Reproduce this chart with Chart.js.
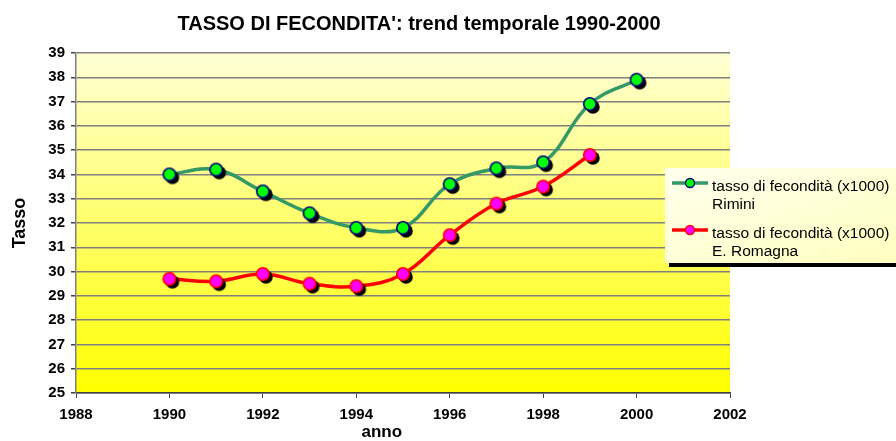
<!DOCTYPE html>
<html>
<head>
<meta charset="utf-8">
<script src="https://cdn.jsdelivr.net/npm/chart.js@4.4.1/dist/chart.umd.min.js"></script>
<style>
  html, body { margin: 0; padding: 0; background: #fff; }
  #wrap { position: relative; width: 896px; height: 441px; }
  #legend {
    position: absolute; left: 665px; top: 168px; width: 231px; height: 95px;
    background: linear-gradient(160deg, #ffffee 0%, #ffffc0 100%);
    box-shadow: 4px 4px 0 #000;
    font-family: Arial, "Liberation Sans", sans-serif; font-size: 15.5px; color: #000;
    box-sizing: border-box; padding-top: 8px;
  }
  .item { position: relative; height: 47px; }
  .item svg { position: absolute; left: 6px; top: 0px; }
  .item .txt { position: absolute; left: 47px; top: 1px; line-height: 17.5px; white-space: nowrap; }
</style>
</head>
<body>
<div id="wrap">
  <canvas id="chart" width="896" height="441"></canvas>
  <div id="legend"></div>
</div>
<script>
const years = [1990, 1991, 1992, 1993, 1994, 1995, 1996, 1997, 1998, 1999, 2000];
const rimini = [34.0, 34.2, 33.3, 32.4, 31.8, 31.8, 33.6, 34.25, 34.5, 36.9, 37.9];
const romagna = [29.7, 29.6, 29.9, 29.5, 29.4, 29.9, 31.5, 32.8, 33.5, 34.8];
const seriesNames = [
  ['tasso di fecondità (x1000)', 'Rimini'],
  ['tasso di fecondità (x1000)', 'E. Romagna']
];
const yTicks = [25, 26, 27, 28, 29, 30, 31, 32, 33, 34, 35, 36, 37, 38, 39];
const xTicks = [1988, 1990, 1992, 1994, 1996, 1998, 2000, 2002];

function marker(fill, stroke) {
  const c = document.createElement('canvas');
  c.width = 26; c.height = 26;
  const g = c.getContext('2d');
  g.fillStyle = '#000';
  g.beginPath(); g.arc(16, 16, 6.8, 0, Math.PI * 2); g.fill();
  g.fillStyle = fill; g.strokeStyle = stroke; g.lineWidth = 1.6;
  g.beginPath(); g.arc(13, 13, 6.2, 0, Math.PI * 2); g.fill(); g.stroke();
  return c;
}

const bgPlugin = {
  id: 'bg',
  afterLayout(chart) {
    // title in the original is centred a bit right of the plot
    if (chart.titleBlock) {
      chart.titleBlock.left = 108;
      chart.titleBlock.right = 730;
    }
  },
  beforeDraw(chart) {
    const { ctx, chartArea: a } = chart;
    const grad = ctx.createLinearGradient(0, a.top, 0, a.bottom);
    grad.addColorStop(0, '#ffffd6');
    grad.addColorStop(1, '#ffff00');
    ctx.save();
    ctx.fillStyle = grad;
    ctx.fillRect(a.left, a.top, a.right - a.left, a.bottom - a.top);
    ctx.restore();
  }
};

const fam = 'Arial, "Liberation Sans", sans-serif';
const font = { family: fam, weight: 'bold', size: 15 };

new Chart(document.getElementById('chart'), {
  type: 'line',
  data: {
    datasets: [
      {
        label: seriesNames[0].join(' '),
        data: years.map((y, i) => ({ x: y, y: rimini[i] })),
        borderColor: '#339966',
        borderWidth: 3.5,
        tension: 0.4,
        pointStyle: marker('#00ff00', '#000080')
      },
      {
        label: seriesNames[1].join(' '),
        data: romagna.map((v, i) => ({ x: years[i], y: v })),
        borderColor: '#ff0000',
        borderWidth: 3.5,
        tension: 0.4,
        pointStyle: marker('#ff00ff', '#ff0000')
      }
    ]
  },
  options: {
    responsive: false,
    animation: false,
    layout: { padding: { left: 0, right: 166, top: 0, bottom: 0 } },
    plugins: {
      legend: { display: false },
      tooltip: { enabled: false },
      title: {
        display: true,
        text: "TASSO DI FECONDITA': trend temporale 1990-2000",
        color: '#000',
        font: { family: fam, weight: 'bold', size: 20 },
        padding: { top: 12, bottom: 17 }
      }
    },
    scales: {
      x: {
        type: 'linear',
        min: 1988, max: 2002,
        afterBuildTicks: s => { s.ticks = xTicks.map(v => ({ value: v })); },
        afterFit: s => { s.height = 48; },
        ticks: { color: '#000', font, padding: 8, callback: v => String(v) },
        grid: { display: true, drawOnChartArea: false, drawTicks: true, tickLength: 5, color: '#404040', lineWidth: 1 },
        border: { color: '#404040', width: 1.5 },
        title: { display: true, text: 'anno         ', color: '#000', font: { family: fam, weight: 'bold', size: 17 }, padding: { top: 0, bottom: -2 } }
      },
      y: {
        min: 25, max: 39,
        afterBuildTicks: s => { s.ticks = yTicks.map(v => ({ value: v })); },
        afterFit: s => { s.width = 76; },
        ticks: { color: '#000', font, padding: 6 },
        grid: { color: '#808080', lineWidth: 1.5, tickLength: 5, tickColor: '#404040' },
        border: { color: '#808080', width: 1.5 },
        title: { display: true, text: 'Tasso', color: '#000', font: { family: fam, weight: 'bold', size: 18 }, padding: { top: 9, bottom: 0 } }
      }
    }
  },
  plugins: [bgPlugin]
});

// legend
const legend = document.getElementById('legend');
const legendStyles = [
  { line: '#339966', fill: '#00ff00', stroke: '#000080' },
  { line: '#ff0000', fill: '#ff00ff', stroke: '#ff0000' }
];
seriesNames.forEach((lines, i) => {
  const st = legendStyles[i];
  const item = document.createElement('div');
  item.className = 'item';
  item.innerHTML =
    '<svg width="40" height="14"><line x1="1" y1="7" x2="37" y2="7" stroke="' + st.line + '" stroke-width="3.5"/>' +
    '<circle cx="19" cy="7" r="4.5" fill="' + st.fill + '" stroke="' + st.stroke + '" stroke-width="1.4"/></svg>' +
    '<div class="txt">' + lines.join('<br>') + '</div>';
  legend.appendChild(item);
});
</script>
</body>
</html>
